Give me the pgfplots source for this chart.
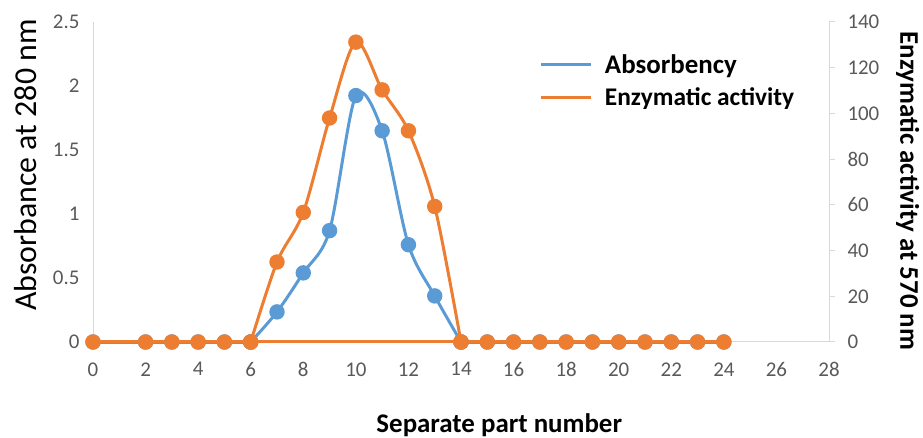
\documentclass[border=0pt]{standalone}
\usepackage{pgfplots}
\pgfplotsset{compat=1.18}
\usepackage{fontspec}
\setmainfont{Carlito}
\definecolor{cblue}{HTML}{5B9BD5}
\definecolor{corange}{HTML}{ED7D31}
\definecolor{axgray}{HTML}{D9D9D9}
\definecolor{tickgray}{HTML}{595959}
\begin{document}
\begin{tikzpicture}
\path[use as bounding box] (0bp,0bp) rectangle (923bp,438bp);
\pgfplotsset{common/.style={
  at={(93bp,96bp)}, anchor=south west, scale only axis,
  width=736bp, height=320bp, xmin=0, xmax=28,
  /pgf/number format/assume math mode=true,
  tick label style={font=\fontsize{21}{21}\selectfont, text=tickgray},
  axis line style={draw=axgray, line width=1bp},
  clip=false,
}}
\begin{axis}[common,
  ymin=0, ymax=2.5, ytick={0,0.5,1,1.5,2,2.5},
  xtick={0,2,...,28},
  axis y line*=left, axis x line*=bottom,
  major tick length=0pt,
  yticklabel style={/pgf/number format/fixed},
  y axis line style={-}, x axis line style={-},
  ylabel={Absorbance at 280 nm},
  ylabel style={at={(axis description cs:-0.092,0.553)}, anchor=center, rotate=0, font=\fontsize{32}{32}\selectfont},
  xlabel={\bfseries Separate part number},
  xlabel style={at={(axis description cs:0.552,-0.26)}, anchor=center, font=\fontsize{27}{27}\selectfont},
  xticklabel style={yshift=-17bp},
  yticklabel style={xshift=-10bp},
]
\addplot[cblue, line width=3bp, mark=*, mark size=6.2bp, mark options={fill=cblue, draw=cblue}]
  coordinates {(0,0) (2,0) (3,0) (4,0) (5,0) (6,0)};
\addplot[cblue, line width=3bp, smooth, tension=0.5, mark=*, mark size=6.2bp, mark options={fill=cblue, draw=cblue}]
  coordinates {(6,0) (7,0.235) (8,0.54) (9,0.87) (10,1.925) (11,1.65) (12,0.76) (13,0.36) (14,0)};
\addplot[cblue, line width=3bp, mark=*, mark size=6.2bp, mark options={fill=cblue, draw=cblue}]
  coordinates {(14,0) (15,0) (16,0) (17,0) (18,0) (19,0) (20,0) (21,0) (22,0) (23,0) (24,0)};
\end{axis}
\begin{axis}[common,
  ymin=0, ymax=140, ytick={0,20,...,140},
  axis y line*=right, axis x line=none,
  ytick style={draw=axgray, line width=1bp},
  major tick length=6bp, tick align=outside,
  y axis line style={-},
  yticklabel style={xshift=9bp},
  ylabel={\bfseries Enzymatic activity at 570 nm},
  ylabel style={at={(axis description cs:1.107,0.472)}, anchor=center, rotate=180, font=\fontsize{27}{27}\selectfont},
  legend style={at={(axis description cs:0.607,0.90)}, anchor=north west, draw=none, fill=none,
    font=\fontsize{25.5}{25.5}\selectfont, row sep=13bp, inner sep=0pt,
    nodes={inner sep=0pt}},
  legend cell align=left,
  legend image code/.code={\draw[#1] (0bp,0bp) -- (50bp,0bp); \path (62bp,0bp);},
]
\addlegendimage{cblue, line width=3bp}
\addlegendentry{\fontsize{27}{27}\selectfont\bfseries Absorbency}
\addplot[corange, line width=3bp, forget plot]
  coordinates {(0,0) (24,0)};
\addplot[corange, line width=3bp, smooth, tension=0.5, mark=*, mark size=6.2bp, mark options={fill=corange, draw=corange}]
  coordinates {(6,0) (7,35) (8,56.7) (9,98) (10,131.2) (11,110.3) (12,92.4) (13,59.3) (14,0)};
\addlegendentry{\bfseries Enzymatic activity}
\addplot[corange, line width=3bp, only marks, mark=*, mark size=6.2bp, mark options={fill=corange, draw=corange}, forget plot]
  coordinates {(0,0) (2,0) (3,0) (4,0) (5,0) (6,0) (14,0) (15,0) (16,0) (17,0) (18,0) (19,0) (20,0) (21,0) (22,0) (23,0) (24,0)};
\end{axis}
\end{tikzpicture}
\end{document}
